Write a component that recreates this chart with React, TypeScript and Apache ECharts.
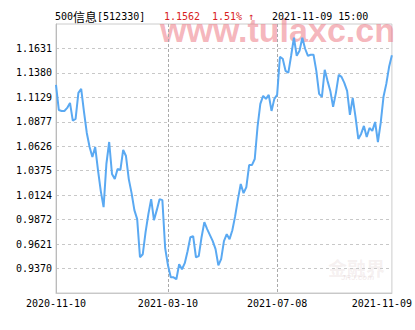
import React, { useEffect, useRef } from "react";
import * as echarts from "echarts";

// ---- data ----
const fundName = "500信息";
const fundCode = "[512330]";
const lastPrice = "1.1562";
const changeText = "1.51% ↑";
const timeStamp = "2021-11-09 15:00";

const navValues = [
  1.1257, 1.0999, 1.0989, 1.0989, 1.1020, 1.1072, 1.0890, 1.0907, 1.1175, 1.1216,
  1.0979, 1.0763, 1.0619, 1.0516, 1.0619, 1.0382, 1.0166, 1.0001, 1.0444, 1.0670,
  1.0341, 1.0289, 1.0392, 1.0382, 1.0588, 1.0526, 1.0289, 1.0145, 0.9970, 0.9878,
  0.9486, 0.9517, 0.9744, 0.9929, 1.0083, 0.9867, 0.9970, 1.0083, 1.0073, 0.9579,
  0.9404, 0.9280, 0.9280, 0.9260, 0.9414, 0.9363, 0.9425, 0.9548, 0.9692, 0.9703,
  0.9486, 0.9497, 0.9692, 0.9847, 0.9775, 0.9713, 0.9651, 0.9569, 0.9404, 0.9466,
  0.9651, 0.9723, 0.9672, 0.9764, 0.9908, 1.0083, 1.0238, 1.0145, 1.0207, 1.0433,
  1.0433, 1.0495, 1.0825, 1.1061, 1.1144, 1.1113, 1.1154, 1.0989, 1.1113, 1.1154,
  1.1545, 1.1525, 1.1401, 1.1381, 1.1556, 1.1741, 1.1556, 1.1607, 1.1741, 1.1628,
  1.1556, 1.1566, 1.1566, 1.1401, 1.1164, 1.1134, 1.1411, 1.1298, 1.1195, 1.1031,
  1.1175, 1.1360, 1.1339, 1.1278, 1.1195, 1.0948, 1.1123, 1.0928, 1.0701, 1.0753,
  1.0835, 1.0722, 1.0814, 1.0784, 1.0876, 1.0670, 1.0866, 1.1134, 1.1267, 1.1442,
  1.1562,
];

const yTickValues = [0.9370, 0.9621, 0.9872, 1.0124, 1.0375, 1.0626, 1.0877, 1.1129, 1.1380, 1.1631];
const yMin = 0.911878;
const yMax = 1.188222;

const xTickIndex = [0, 40, 79, 120];
const xTickLabels = ["2020-11-10", "2021-03-10", "2021-07-08", "2021-11-09"];
const xGridIndex = [40, 79];

const MONO = "'DejaVu Sans Mono', 'Liberation Mono', monospace";
const CJK = "'Noto Sans CJK SC', sans-serif";

export default function App() {
  const ref = useRef<HTMLDivElement>(null);

  useEffect(() => {
    if (!ref.current) return;
    const chart = echarts.init(ref.current, undefined, { renderer: "svg" });
    const categories = navValues.map((_, i) => String(i));
    const lastIdx = navValues.length - 1;

    chart.setOption({
      animation: false,
      backgroundColor: "#ffffff",
      grid: {
        left: 56,
        right: 23,
        top: 24,
        bottom: 37,
        show: true,
        borderColor: "#cccccc",
        borderWidth: 1,
        backgroundColor: "transparent",
      },
      xAxis: {
        type: "category",
        data: categories,
        boundaryGap: false,
        axisLine: { show: true, lineStyle: { color: "#c8c8c8", width: 1 } },
        axisTick: { show: false },
        axisLabel: {
          show: true,
          interval: (idx: number) => xTickIndex.includes(idx),
          margin: 5,
          color: "#000000",
          fontFamily: MONO,
          fontSize: 10,
          formatter: (_v: string, idx: number) => {
            const k = xTickIndex.indexOf(idx);
            if (k < 0) return "";
            const label = xTickLabels[k];
            return idx === lastIdx ? "{last|" + label + "}" : label;
          },
          rich: {
            last: {
              fontFamily: MONO,
              fontSize: 10,
              color: "#000000",
              padding: [0, 20, 0, 0],
            },
          },
        },
        splitLine: {
          show: true,
          interval: (idx: number) => xGridIndex.includes(idx),
          lineStyle: { type: [3, 2], color: "#aaaaaa", width: 1 },
        },
      },
      yAxis: {
        type: "value",
        min: yMin,
        max: yMax,
        axisLine: { show: true, lineStyle: { color: "#bbbbbb", width: 1 } },
        axisTick: { show: false, customValues: yTickValues },
        axisLabel: {
          customValues: yTickValues,
          margin: 4,
          color: "#000000",
          fontFamily: MONO,
          fontSize: 10,
          formatter: (v: number) => v.toFixed(4),
        },
        splitLine: {
          show: true,
          lineStyle: { type: [3, 3], color: "#c8c8c8", width: 1 },
        },
      },
      graphic: [
        {
          type: "text",
          x: 160,
          y: 30,
          z: 0,
          silent: true,
          style: {
            text: "www.tulaxc.cn",
            fill: "rgba(238,120,132,0.55)",
            fontFamily: "'Liberation Sans', Arial, sans-serif",
            fontWeight: "bold",
            fontSize: 34,
            verticalAlign: "middle",
          },
        },
        {
          type: "text",
          x: 328,
          y: 267,
          z: 0,
          silent: true,
          style: {
            text: "金融界",
            fill: "rgba(200,170,170,0.18)",
            fontFamily: CJK,
            fontWeight: "bold",
            fontSize: 19,
            verticalAlign: "middle",
          },
        },
        {
          type: "text",
          x: 341,
          y: 277,
          z: 0,
          silent: true,
          style: {
            text: "JRJ.com",
            fill: "rgba(200,170,170,0.2)",
            fontFamily: "'Liberation Sans', sans-serif",
            fontStyle: "italic",
            fontWeight: "bold",
            fontSize: 8,
            verticalAlign: "middle",
          },
        },
        {
          type: "text",
          x: 55,
          y: 16,
          z: 10,
          style: {
            text: "{n|500}{c|信息}{n|" + fundCode + "}",
            verticalAlign: "middle",
            rich: {
              n: { fontFamily: MONO, fontSize: 10, fill: "#000000" },
              c: { fontFamily: CJK, fontSize: 12, fill: "#000000" },
            },
          },
        },
        {
          type: "text",
          x: 164,
          y: 16,
          z: 10,
          style: {
            text: lastPrice,
            fill: "#d81e1e",
            fontFamily: MONO,
            fontSize: 10,
            verticalAlign: "middle",
          },
        },
        {
          type: "text",
          x: 212,
          y: 16,
          z: 10,
          style: {
            text: changeText,
            fill: "#d81e1e",
            fontFamily: MONO,
            fontSize: 10,
            verticalAlign: "middle",
          },
        },
        {
          type: "text",
          x: 272,
          y: 16,
          z: 10,
          style: {
            text: timeStamp,
            fill: "#000000",
            fontFamily: MONO,
            fontSize: 10,
            verticalAlign: "middle",
          },
        },
      ],
      series: [
        {
          type: "line",
          name: fundName,
          data: navValues,
          showSymbol: false,
          symbol: "none",
          z: 5,
          lineStyle: { color: "#5aa9f2", width: 2 },
        },
      ],
    });

    return () => chart.dispose();
  }, []);

  return (
    <div
      ref={ref}
      style={{ position: "fixed", left: 0, top: 0, width: 415, height: 330, background: "#fff" }}
    />
  );
}
